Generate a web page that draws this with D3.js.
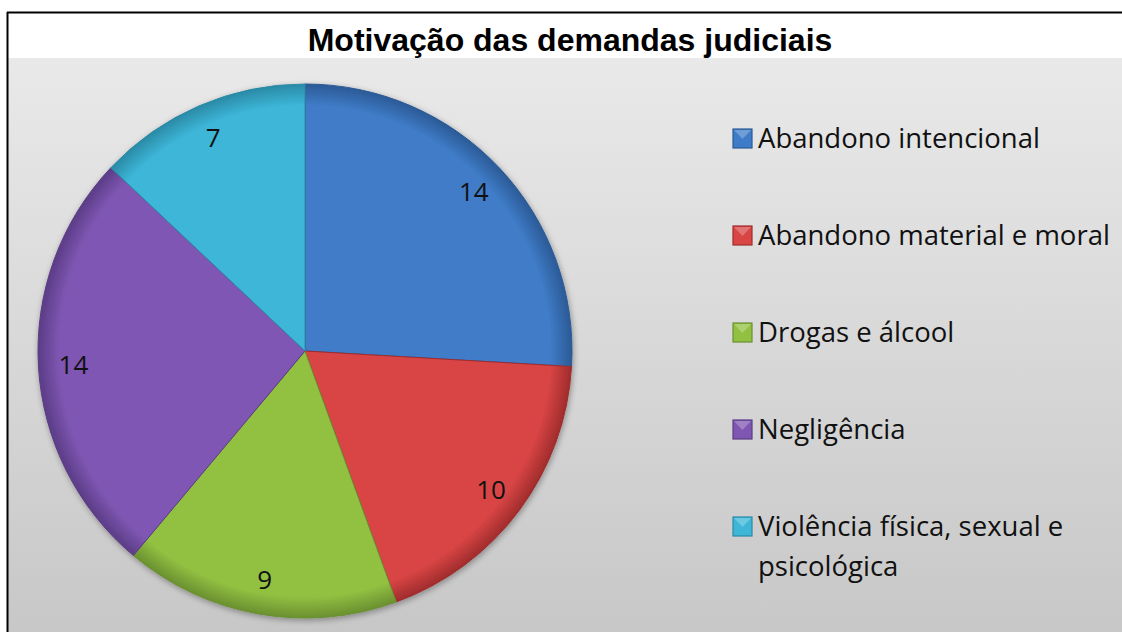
<!DOCTYPE html>
<html>
<head>
<meta charset="utf-8">
<script src="https://cdn.jsdelivr.net/npm/d3@7"></script>
<style>
  body { margin: 0; background: #fff; }
</style>
</head>
<body>
<svg id="chart"></svg>
<script>
const categories = [
  'Abandono intencional',
  'Abandono material e moral',
  'Drogas e álcool',
  'Negligência',
  'Violência física, sexual e psicológica',
];
const values = [14, 10, 9, 14, 7];
const colors = ['#3f7cc8', '#d94545', '#92c142', '#7f57b3', '#3db6d8'];
const edgeColors = ['#2b5a96', '#a02c2c', '#6a9030', '#5b3c86', '#2a8aa6'];
const legendLines = [
  ['Abandono intencional'],
  ['Abandono material e moral'],
  ['Drogas e álcool'],
  ['Negligência'],
  ['Violência física, sexual e', 'psicológica'],
];

const width = 1122;
const height = 632;

const svg = d3.select('#chart').attr('width', width).attr('height', height);
const defs = svg.append('defs');

// background gradient
const bg = defs.append('linearGradient').attr('id', 'bg')
  .attr('x1', 0).attr('y1', 0).attr('x2', 0).attr('y2', 1);
bg.append('stop').attr('offset', '0%').attr('stop-color', '#e9e9e9');
bg.append('stop').attr('offset', '100%').attr('stop-color', '#c4c4c4');

const shadow = defs.append('filter').attr('id', 'shadow')
  .attr('x', '-10%').attr('y', '-10%').attr('width', '120%').attr('height', '120%');
shadow.append('feGaussianBlur').attr('in', 'SourceAlpha').attr('stdDeviation', 3).attr('result', 'b');
shadow.append('feOffset').attr('in', 'b').attr('dx', 1).attr('dy', 2).attr('result', 'o');
shadow.append('feComponentTransfer').attr('in', 'o').attr('result', 'o2')
  .append('feFuncA').attr('type', 'linear').attr('slope', 0.35);
const merge = shadow.append('feMerge');
merge.append('feMergeNode').attr('in', 'o2');
merge.append('feMergeNode').attr('in', 'SourceGraphic');

// frame
svg.append('rect').attr('x', 7).attr('y', 12).attr('width', width).attr('height', height)
  .attr('fill', '#fff');
svg.append('rect').attr('x', 8).attr('y', 58).attr('width', width).attr('height', height)
  .attr('fill', 'url(#bg)');
svg.append('line').attr('x1', 7).attr('x2', width).attr('y1', 12.5).attr('y2', 12.5)
  .attr('stroke', '#000').attr('stroke-width', 2);
svg.append('line').attr('x1', 7.5).attr('x2', 7.5).attr('y1', 12).attr('y2', height)
  .attr('stroke', '#000').attr('stroke-width', 2);

// title
svg.append('text')
  .attr('x', 570)
  .attr('y', 51)
  .attr('text-anchor', 'middle')
  .style('font-family', '"Liberation Sans", Arial, sans-serif')
  .style('font-weight', 'bold')
  .style('font-size', '32px')
  .text('Motivação das demandas judiciais');

// pie
const cx = 305, cy = 351, r = 267;
const pie = d3.pie().sort(null).value((d) => d);
const arcs = pie(values);
const arc = d3.arc().innerRadius(0).outerRadius(r);
const labelArc = d3.arc().innerRadius(232).outerRadius(232);

colors.forEach((c, i) => {
  const g = defs.append('radialGradient').attr('id', 'grad' + i)
    .attr('gradientUnits', 'userSpaceOnUse')
    .attr('cx', 0).attr('cy', 0).attr('r', r);
  g.append('stop').attr('offset', '0%').attr('stop-color', c);
  g.append('stop').attr('offset', '92%').attr('stop-color', c);
  g.append('stop').attr('offset', '100%').attr('stop-color', edgeColors[i]);
});

const pieG = svg.append('g').attr('transform', `translate(${cx},${cy})`);

pieG.append('g').attr('filter', 'url(#shadow)')
  .selectAll('path')
  .data(arcs)
  .enter()
  .append('path')
  .attr('d', arc)
  .attr('fill', (d, i) => `url(#grad${i})`)
  .attr('stroke', (d, i) => edgeColors[i])
  .attr('stroke-width', 1);

pieG.selectAll('.value-label')
  .data(arcs)
  .enter()
  .append('text')
  .classed('value-label', true)
  .attr('transform', (d) => `translate(${labelArc.centroid(d)})`)
  .attr('text-anchor', 'middle')
  .attr('dy', '0.35em')
  .style('font-family', '"Open Sans", "Noto Sans", sans-serif')
  .style('font-size', '26px')
  .style('fill', '#111')
  .text((d) => d.data);

// legend
const legendY = d3.scaleBand()
  .domain(categories)
  .range([90, 575])
  .paddingInner(0);

const legend = svg.append('g');
const item = legend.selectAll('.item')
  .data(categories)
  .enter()
  .append('g')
  .classed('item', true)
  .attr('transform', (d) => `translate(733,${legendY(d) + 48})`);

item.append('rect')
  .attr('x', 0)
  .attr('y', -9)
  .attr('width', 19)
  .attr('height', 19)
  .attr('fill', (d, i) => colors[i])
  .attr('stroke', (d, i) => edgeColors[i])
  .attr('stroke-width', 1.2);

item.append('path')
  .attr('d', 'M1,-8 L9.5,1 L18,-8 Z')
  .attr('fill', '#fff')
  .attr('opacity', 0.25);

item.append('text')
  .attr('x', 25)
  .attr('y', 0)
  .style('font-family', '"Open Sans", "Noto Sans", sans-serif')
  .style('font-size', '27.5px')
  .style('fill', '#111')
  .selectAll('tspan')
  .data((d, i) => legendLines[i])
  .enter()
  .append('tspan')
  .attr('x', 25)
  .attr('dy', (d, j) => (j === 0 ? '0.35em' : '1.45em'))
  .text((d) => d);
</script>
</body>
</html>
